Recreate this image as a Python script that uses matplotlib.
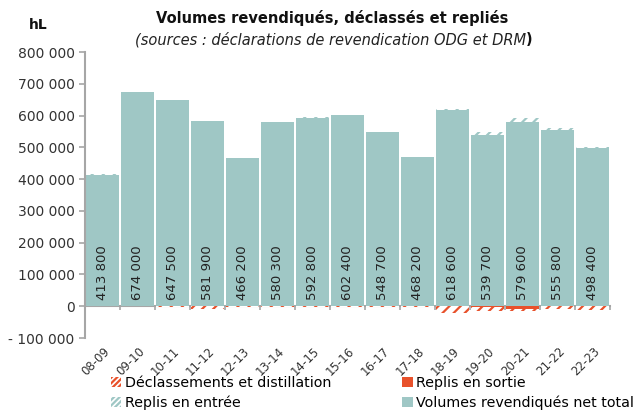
import matplotlib.pyplot as plt
import matplotlib.transforms as mtransforms
import numpy as np
from matplotlib.patches import Patch

plt.rcParams['font.family'] = ['DejaVu Sans']
plt.rcParams['hatch.linewidth'] = 1.6

campagnes = ['08-09', '09-10', '10-11', '11-12', '12-13', '13-14', '14-15', '15-16',
             '16-17', '17-18', '18-19', '19-20', '20-21', '21-22', '22-23']
net_total = [413800, 674000, 647500, 581900, 466200, 580300, 592800, 602400,
             548700, 468200, 618600, 539700, 579600, 555800, 498400]
replis_entree = [1500, 0, 0, 0, 0, 0, 1500, 0, 1000, 2000, 3000, 8000, 12000, 5000, 4000]
replis_sortie = [0, 0, 0, 0, 0, 0, 0, 0, 0, 0, 0, 3000, 9000, 0, 0]
declassements = [0, 0, 1500, 9000, 1500, 1500, 1500, 1500, 1500, 3000, 22000, 13000, 7000, 9000, 13000]

teal = '#9fc7c5'
red = '#e8512b'
grey = '#a6a6a6'

fig = plt.figure(figsize=(6.38, 4.12), dpi=100)
ax = fig.add_axes([85 / 638, 1 - 338 / 412, 525 / 638, 286 / 412])

x = np.arange(len(campagnes))
w = 0.92
net = np.array(net_total)
sortie = -np.array(replis_sortie)

ax.bar(x, net, w, color=teal, linewidth=0)
ax.bar(x, replis_entree, w, bottom=net, facecolor='white', edgecolor=teal, hatch='///', linewidth=0)
ax.bar(x, sortie, w, color=red, linewidth=0)
ax.bar(x, -np.array(declassements), w, bottom=sortie, facecolor='white', edgecolor=red,
       hatch='///', linewidth=0)

for xi, v in zip(x, net_total):
    ax.text(xi, 20000, '{:,}'.format(v).replace(',', ' '), rotation=90, ha='center', va='bottom',
            fontsize=9.5, color='#222222')

ax.set_xlim(-0.5, len(campagnes) - 0.5)
ax.set_ylim(-100000, 800000)
yt = np.arange(-100000, 800001, 100000)
ax.set_yticks(yt)
ax.set_yticklabels(['- 100 000' if v < 0 else ('0' if v == 0 else '{:,}'.format(v).replace(',', ' '))
                    for v in yt])
ax.set_xticks(x)
ax.set_xticklabels(campagnes, rotation=45, ha='right', va='center', rotation_mode='anchor')
ax.tick_params(axis='x', length=0, labelsize=8.5, colors='#333333', pad=8)
ax.tick_params(axis='y', length=4, width=1.2, color=grey, labelsize=10, labelcolor='#333333')
shift = mtransforms.ScaledTranslation(5 / 100, 0, fig.dpi_scale_trans)
for lbl in ax.get_xticklabels():
    lbl.set_transform(lbl.get_transform() + shift)

for s in ['top', 'right', 'bottom']:
    ax.spines[s].set_visible(False)
ax.spines['left'].set_color(grey)
ax.spines['left'].set_linewidth(1.5)

zero = ax.secondary_xaxis(100000 / 900000)
zero.set_xticks(np.arange(-0.5, len(campagnes), 1.0))
zero.set_xticklabels([])
zero.tick_params(length=3, width=1.2, color=grey)
zero.spines['bottom'].set_color(grey)
zero.spines['bottom'].set_linewidth(1.5)

fig.text(332 / 638, 1 - 18 / 412, 'Volumes revendiqués, déclassés et repliés', ha='center', va='center',
         fontsize=10.5, fontweight='bold', color='#111111')
fig.text(526 / 638, 1 - 40 / 412, '(sources : déclarations de revendication ODG et DRM', ha='right',
         va='center', fontsize=10.5, style='italic', color='#222222')
fig.text(526 / 638, 1 - 40 / 412, ')', ha='left', va='center', fontsize=10.5, fontweight='bold',
         color='#111111')
fig.text(38 / 638, 1 - 25 / 412, 'hL', ha='center', va='center', fontsize=10, fontweight='bold',
         color='#111111')

handles = [
    Patch(facecolor='white', edgecolor=red, hatch='//////', linewidth=0, label='Déclassements et distillation'),
    Patch(facecolor=red, label='Replis en sortie'),
    Patch(facecolor='white', edgecolor=teal, hatch='//////', linewidth=0, label='Replis en entrée'),
    Patch(facecolor=teal, label='Volumes revendiqués net total'),
]
fig.legend(handles=[handles[0], handles[2], handles[1], handles[3]], ncol=2, loc='upper left',
           bbox_to_anchor=(111 / 638, 1 - 376 / 412), frameon=False, fontsize=10.3,
           handlelength=0.7, handleheight=0.7, handletextpad=0.25, columnspacing=5.0,
           labelspacing=0.38, borderaxespad=0, borderpad=0)

fig.savefig('out.png', dpi=100)
